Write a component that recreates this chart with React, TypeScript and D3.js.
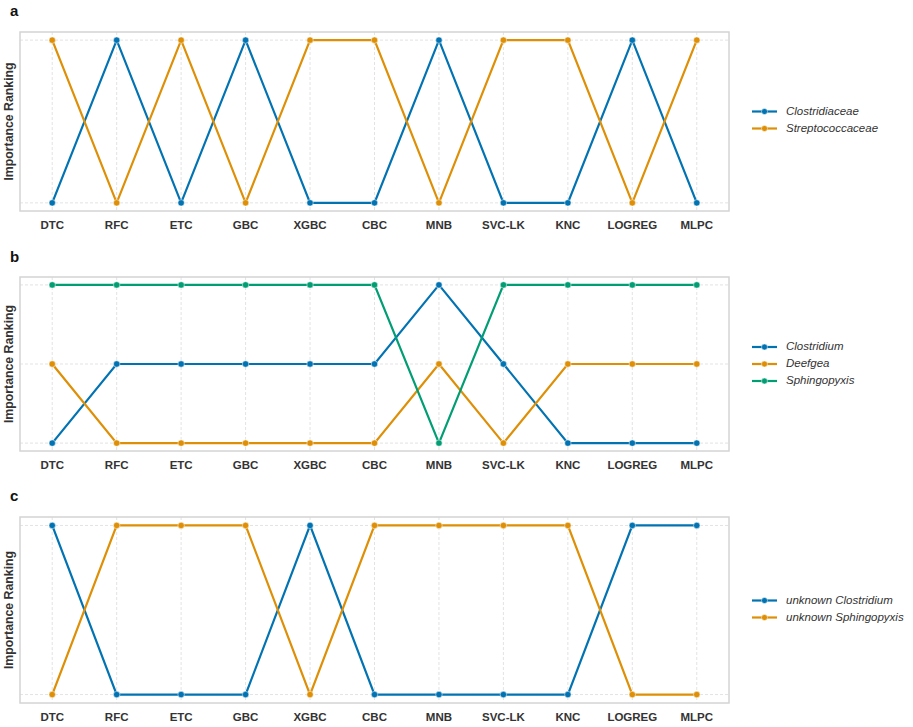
import React from "react";
import * as d3 from "d3";

const categories = ["DTC", "RFC", "ETC", "GBC", "XGBC", "CBC", "MNB", "SVC-LK", "KNC", "LOGREG", "MLPC"];

// panel a (rank 1 = top)
const aNames = ["Clostridiaceae", "Streptococcaceae"];
const aClostridiaceae = [2, 1, 2, 1, 2, 2, 1, 2, 2, 1, 2];
const aStreptococcaceae = [1, 2, 1, 2, 1, 1, 2, 1, 1, 2, 1];

// panel b
const bNames = ["Clostridium", "Deefgea", "Sphingopyxis"];
const bClostridium = [3, 2, 2, 2, 2, 2, 1, 2, 3, 3, 3];
const bDeefgea = [2, 3, 3, 3, 3, 3, 2, 3, 2, 2, 2];
const bSphingopyxis = [1, 1, 1, 1, 1, 1, 3, 1, 1, 1, 1];

// panel c
const cNames = ["unknown Clostridium", "unknown Sphingopyxis"];
const cUnknownClostridium = [1, 2, 2, 2, 1, 2, 2, 2, 2, 1, 1];
const cUnknownSphingopyxis = [2, 1, 1, 1, 2, 1, 1, 1, 1, 2, 2];

const panelLabels = ["a", "b", "c"];
const colors = ["#0173b2", "#de8f05", "#029e73"];

const W = 913;
const H = 727;

interface PanelSpec {
  label: string;
  names: string[];
  series: number[][];
  top: number;
  bottom: number;
  labelY: number;
  legendY: number;
}

const panels: PanelSpec[] = [
  { label: panelLabels[0], names: aNames, series: [aClostridiaceae, aStreptococcaceae], top: 32, bottom: 211, labelY: 12, legendY: 120 },
  { label: panelLabels[1], names: bNames, series: [bClostridium, bDeefgea, bSphingopyxis], top: 277, bottom: 451, labelY: 258, legendY: 364 },
  { label: panelLabels[2], names: cNames, series: [cUnknownClostridium, cUnknownSphingopyxis], top: 517, bottom: 703, labelY: 497, legendY: 609 },
];

const frameLeft = 20;
const frameRight = 729;

function Panel({ p }: { p: PanelSpec }) {
  const n = categories.length;
  const xPad = 0.5;
  const x = d3.scaleLinear().domain([-xPad, n - 1 + xPad]).range([frameLeft, frameRight]);
  const maxRank = d3.max(p.series.flat()) as number;
  const span = maxRank - 1;
  const yPad = span * 0.05;
  const y = d3.scaleLinear().domain([1 - yPad, maxRank + yPad]).range([p.top, p.bottom]);
  const ranks = d3.range(1, maxRank + 1);
  const line = d3
    .line<number>()
    .x((_, i) => x(i))
    .y((d) => y(d));
  const font = "Arial, 'Liberation Sans', sans-serif";
  const legendStep = 17;
  const legendTop = p.legendY - ((p.names.length - 1) * legendStep) / 2;
  return (
    <g>
      <text x={10} y={p.labelY} fontFamily={font} fontWeight="bold" fontSize={15} fill="#111" dominantBaseline="middle">
        {p.label}
      </text>
      {categories.map((c, i) => (
        <line key={"vx" + c} x1={x(i)} x2={x(i)} y1={p.top} y2={p.bottom} stroke="#dcdcdc" strokeWidth={0.8} strokeDasharray="3,2" />
      ))}
      {ranks.map((r) => (
        <line key={"hy" + r} x1={frameLeft} x2={frameRight} y1={y(r)} y2={y(r)} stroke="#dcdcdc" strokeWidth={0.8} strokeDasharray="3,2" />
      ))}
      <rect x={frameLeft} y={p.top} width={frameRight - frameLeft} height={p.bottom - p.top} fill="none" stroke="#d4d4d4" strokeWidth={1.5} />
      {p.series.map((s, k) => (
        <path key={"l" + k} d={line(s) || ""} fill="none" stroke={colors[k]} strokeWidth={2.2} />
      ))}
      {p.series.map((s, k) =>
        s.map((v, i) => <circle key={"c" + k + "-" + i} cx={x(i)} cy={y(v)} r={3.2} fill={colors[k]} stroke="#fff" strokeWidth={0.5} />)
      )}
      {categories.map((c, i) => (
        <text key={"t" + c} x={x(i)} y={p.bottom + 15} textAnchor="middle" dominantBaseline="middle" fontFamily={font} fontWeight="bold" fontSize={11.5} fill="#333">
          {c}
        </text>
      ))}
      <text
        transform={`translate(10,${(p.top + p.bottom) / 2}) rotate(-90)`}
        textAnchor="middle"
        dominantBaseline="middle"
        fontFamily={font}
        fontWeight="bold"
        fontSize={12.3}
        fill="#333"
      >
        Importance Ranking
      </text>
      {p.names.map((nm, k) => {
        const ly = legendTop + k * legendStep;
        return (
          <g key={"lg" + k}>
            <line x1={752} x2={777} y1={ly} y2={ly} stroke={colors[k]} strokeWidth={2.2} />
            <circle cx={764.5} cy={ly} r={3} fill={colors[k]} stroke="#fff" strokeWidth={0.5} />
            <text x={786} y={ly} dominantBaseline="middle" fontFamily={font} fontStyle="italic" fontSize={11.5} fill="#333">
              {nm}
            </text>
          </g>
        );
      })}
    </g>
  );
}

export default function App() {
  return (
    <svg width={W} height={H} style={{ position: "absolute", left: 0, top: 0, background: "#fff" }}>
      <rect width={W} height={H} fill="#fff" />
      {panels.map((p) => (
        <Panel key={p.label} p={p} />
      ))}
    </svg>
  );
}
